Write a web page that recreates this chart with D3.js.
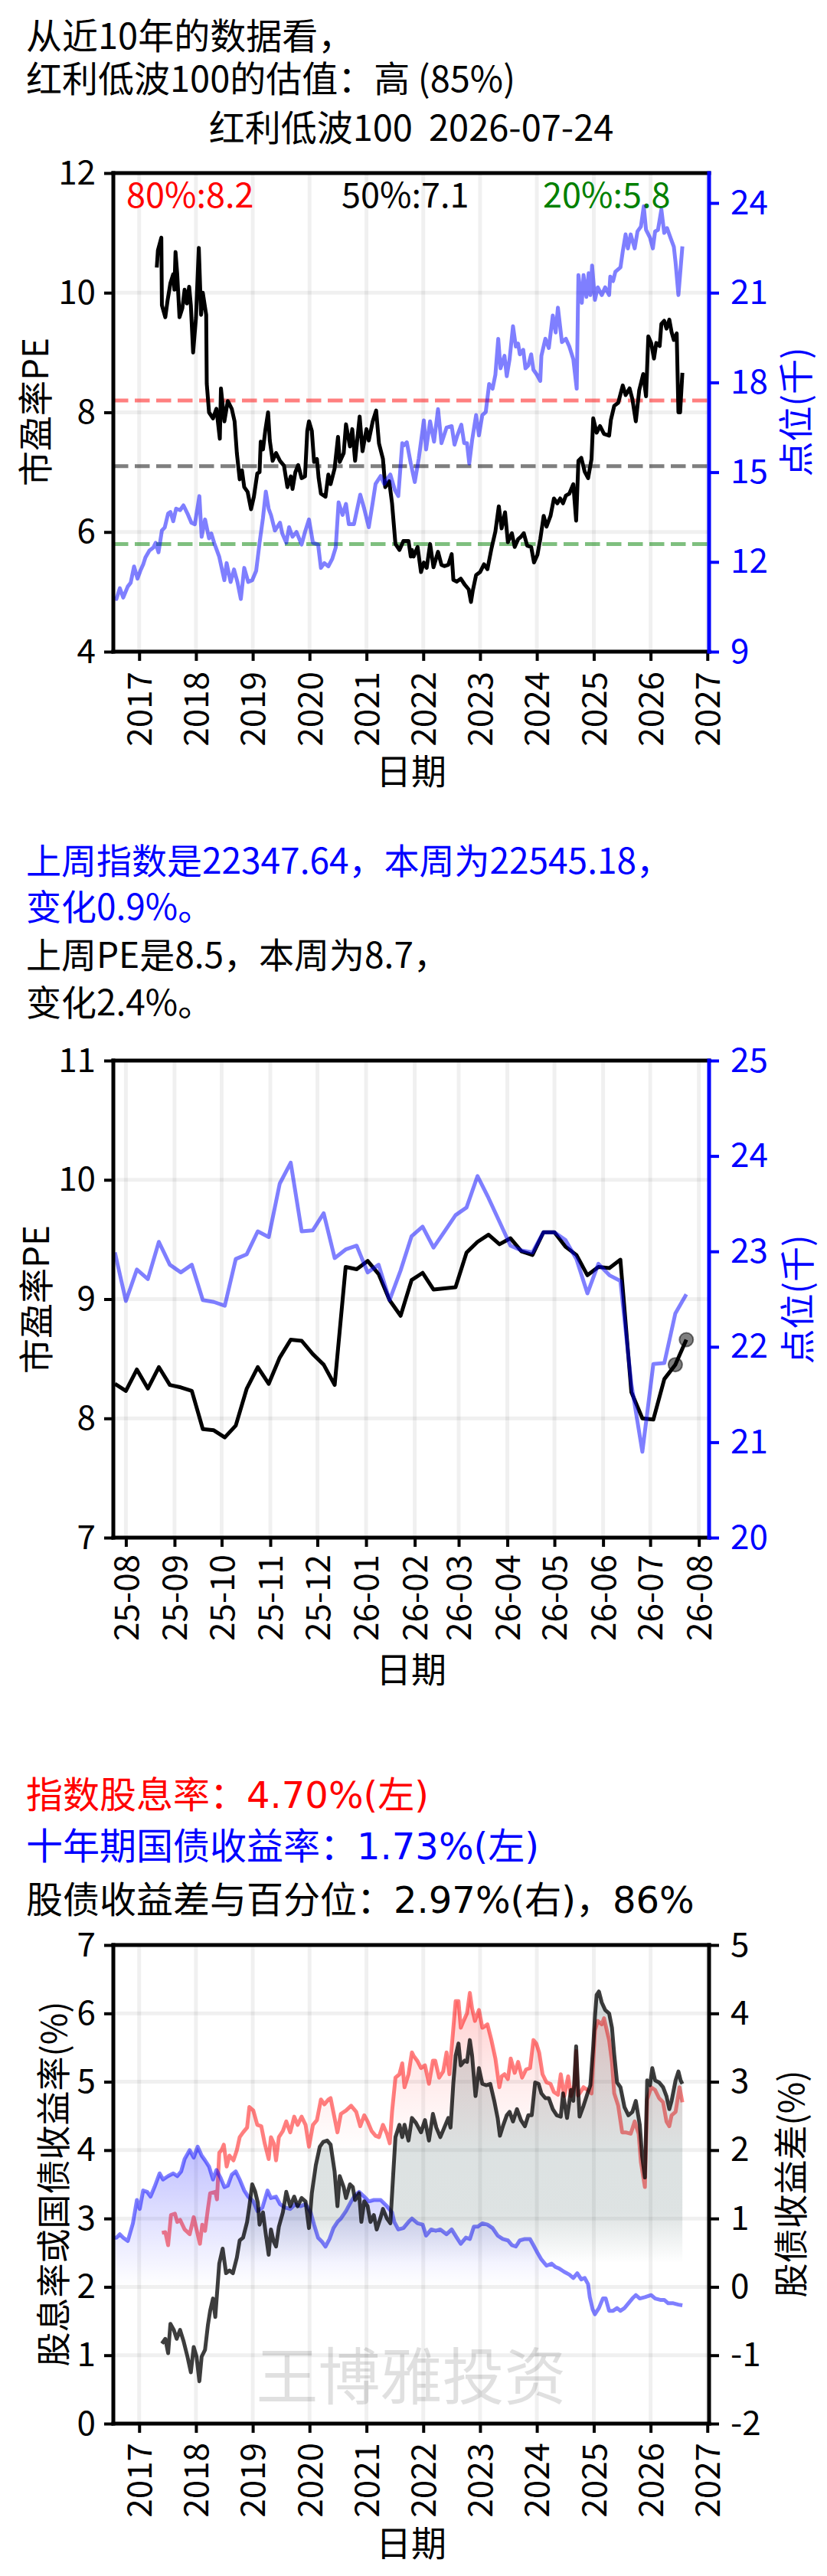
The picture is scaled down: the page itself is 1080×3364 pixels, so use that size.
<!DOCTYPE html>
<html>
<head>
<meta charset="utf-8">
<script src="https://cdn.jsdelivr.net/npm/d3@7"></script>
<style>
  body { margin: 0; background: #fff; }
  svg { display: block; }
</style>
</head>
<body>
<svg id="chart" width="1080" height="3364"></svg>
<script>
// ---- data: [decimal year, value] ----
// 市盈率PE (10 years)
var pe10y = [
  [2017.31,10.42],[2017.33,10.71],[2017.39,10.92],[2017.40,9.79],[2017.46,9.59],[2017.50,9.87],
  [2017.55,10.16],[2017.60,10.31],[2017.62,10.05],[2017.64,10.68],[2017.67,10.31],[2017.71,9.59],
  [2017.76,9.74],[2017.80,10.05],[2017.84,9.82],[2017.88,10.10],[2017.91,9.79],[2017.95,9.00],
  [2018.00,9.58],[2018.05,10.75],[2018.09,9.63],[2018.12,10.00],[2018.18,9.63],[2018.19,8.48],
  [2018.23,8.00],[2018.30,7.90],[2018.36,8.06],[2018.42,7.56],[2018.44,8.40],[2018.50,7.85],
  [2018.56,8.19],[2018.63,8.06],[2018.68,7.85],[2018.72,7.32],[2018.77,6.88],[2018.81,7.03],
  [2018.85,6.75],[2018.91,6.67],[2018.97,6.38],[2019.02,6.59],[2019.08,6.98],[2019.12,7.00],
  [2019.14,7.51],[2019.18,7.38],[2019.22,7.69],[2019.27,8.00],[2019.30,7.53],[2019.35,7.19],
  [2019.41,7.32],[2019.48,7.19],[2019.55,7.11],[2019.61,6.75],[2019.67,6.93],[2019.70,6.72],
  [2019.75,7.00],[2019.80,7.12],[2019.86,6.90],[2019.92,6.93],[2019.96,7.69],[2019.99,7.85],
  [2020.04,7.69],[2020.08,7.17],[2020.13,7.22],[2020.16,6.90],[2020.20,6.64],[2020.28,6.59],
  [2020.33,6.96],[2020.37,6.80],[2020.44,7.06],[2020.50,7.59],[2020.53,7.17],[2020.60,7.32],
  [2020.64,7.80],[2020.71,7.43],[2020.75,7.72],[2020.80,7.19],[2020.88,7.93],[2020.93,7.35],
  [2021.00,7.72],[2021.04,7.53],[2021.11,7.85],[2021.17,8.03],[2021.22,7.48],[2021.29,7.22],
  [2021.33,6.75],[2021.40,6.85],[2021.45,6.48],[2021.51,5.80],[2021.58,5.70],[2021.65,5.85],
  [2021.74,5.85],[2021.78,5.59],[2021.80,5.70],[2021.83,5.59],[2021.90,5.75],[2021.96,5.33],
  [2022.01,5.49],[2022.06,5.40],[2022.12,5.80],[2022.18,5.41],[2022.26,5.67],[2022.32,5.45],
  [2022.37,5.43],[2022.44,5.45],[2022.50,5.63],[2022.53,5.20],[2022.59,5.17],[2022.66,5.22],
  [2022.73,5.12],[2022.80,5.04],[2022.84,4.83],[2022.87,5.01],[2022.93,5.28],[2023.00,5.33],
  [2023.07,5.46],[2023.13,5.38],[2023.20,5.72],[2023.27,6.01],[2023.33,6.43],[2023.38,6.06],
  [2023.44,6.33],[2023.49,5.83],[2023.56,5.98],[2023.61,5.75],[2023.67,5.88],[2023.72,5.92],
  [2023.77,5.98],[2023.83,5.77],[2023.90,5.75],[2023.95,5.49],[2024.01,5.62],[2024.06,5.88],
  [2024.12,6.27],[2024.17,6.09],[2024.24,6.27],[2024.30,6.56],[2024.36,6.48],[2024.41,6.56],
  [2024.46,6.48],[2024.51,6.61],[2024.57,6.64],[2024.64,6.80],[2024.69,6.19],[2024.73,7.19],
  [2024.78,7.24],[2024.84,7.01],[2024.90,6.90],[2024.96,7.22],[2024.99,7.90],[2025.05,7.66],
  [2025.11,7.77],[2025.18,7.64],[2025.27,7.61],[2025.30,7.87],[2025.36,8.11],[2025.43,8.16],
  [2025.51,8.45],[2025.56,8.29],[2025.63,8.40],[2025.68,8.22],[2025.74,7.85],[2025.80,8.37],
  [2025.87,8.64],[2025.92,8.27],[2025.96,9.27],[2026.01,9.16],[2026.06,8.90],[2026.10,9.16],
  [2026.16,9.11],[2026.19,9.48],[2026.24,9.53],[2026.28,9.40],[2026.33,9.55],[2026.37,9.34],
  [2026.41,9.21],[2026.46,9.32],[2026.49,8.00],[2026.52,8.00],[2026.56,8.66]
];

// 点位(千) (10 years)
var index10y = [
  [2016.55,10.80],[2016.60,10.76],[2016.66,11.12],[2016.72,10.81],[2016.80,11.18],[2016.85,11.30],
  [2016.91,11.85],[2016.97,11.44],[2017.02,11.70],[2017.07,11.91],[2017.11,12.15],[2017.18,12.38],
  [2017.25,12.48],[2017.29,12.64],[2017.34,12.32],[2017.40,13.05],[2017.45,13.15],[2017.51,13.62],
  [2017.55,13.67],[2017.60,13.36],[2017.65,13.78],[2017.72,13.73],[2017.78,13.89],[2017.85,13.62],
  [2017.92,13.31],[2017.98,13.26],[2018.06,14.20],[2018.10,12.84],[2018.16,13.42],[2018.23,12.79],
  [2018.27,12.95],[2018.32,12.64],[2018.41,12.17],[2018.50,11.39],[2018.54,11.96],[2018.61,11.33],
  [2018.67,11.75],[2018.73,11.33],[2018.79,10.76],[2018.85,11.80],[2018.92,11.33],[2018.99,11.39],
  [2019.06,11.70],[2019.12,12.64],[2019.18,13.47],[2019.23,14.35],[2019.28,13.78],[2019.32,13.57],
  [2019.39,13.05],[2019.48,13.31],[2019.52,12.95],[2019.59,12.64],[2019.64,13.16],[2019.70,12.84],
  [2019.77,13.00],[2019.86,12.58],[2019.92,13.00],[2019.99,13.42],[2020.06,12.64],[2020.15,12.58],
  [2020.20,11.80],[2020.26,11.96],[2020.33,11.85],[2020.40,12.11],[2020.46,12.48],[2020.51,13.99],
  [2020.58,13.57],[2020.64,13.94],[2020.69,13.26],[2020.78,13.26],[2020.89,14.25],[2020.96,13.78],
  [2021.04,13.16],[2021.11,13.99],[2021.16,14.61],[2021.25,14.87],[2021.31,14.61],[2021.38,14.82],
  [2021.42,14.92],[2021.50,14.40],[2021.56,14.20],[2021.63,15.97],[2021.66,15.90],[2021.71,16.00],
  [2021.78,15.29],[2021.85,14.67],[2021.92,15.45],[2022.01,16.73],[2022.05,15.76],[2022.12,16.70],
  [2022.19,16.02],[2022.26,17.11],[2022.32,15.97],[2022.41,16.49],[2022.50,16.54],[2022.55,15.92],
  [2022.60,16.23],[2022.67,16.59],[2022.72,15.97],[2022.77,15.97],[2022.81,15.29],[2022.86,16.07],
  [2022.93,16.91],[2022.98,16.23],[2023.04,16.91],[2023.10,17.01],[2023.16,17.95],[2023.22,17.79],
  [2023.27,18.26],[2023.32,19.46],[2023.36,18.47],[2023.43,18.89],[2023.47,18.21],[2023.52,18.78],
  [2023.58,19.88],[2023.63,19.20],[2023.67,19.30],[2023.70,18.94],[2023.76,19.09],[2023.80,18.47],
  [2023.85,18.57],[2023.90,18.94],[2023.94,18.42],[2024.00,18.26],[2024.06,18.05],[2024.08,18.89],
  [2024.15,19.46],[2024.21,19.15],[2024.28,20.24],[2024.33,19.67],[2024.37,20.50],[2024.44,19.35],
  [2024.51,19.46],[2024.57,19.20],[2024.64,18.78],[2024.70,17.79],[2024.73,21.59],[2024.79,20.66],
  [2024.82,21.59],[2024.87,20.86],[2024.91,21.65],[2024.94,20.92],[2024.97,21.91],[2025.02,20.76],
  [2025.07,21.18],[2025.14,20.92],[2025.20,21.18],[2025.27,20.92],[2025.29,21.54],[2025.34,21.39],
  [2025.38,21.70],[2025.47,21.85],[2025.51,22.38],[2025.56,22.95],[2025.60,22.48],[2025.65,22.95],
  [2025.72,22.48],[2025.77,23.05],[2025.83,23.21],[2025.88,23.89],[2025.92,23.10],[2025.99,22.84],
  [2026.04,22.48],[2026.08,23.05],[2026.13,23.10],[2026.19,23.78],[2026.24,23.00],[2026.29,23.16],
  [2026.35,22.84],[2026.41,22.53],[2026.44,22.01],[2026.49,20.92],[2026.53,21.85],[2026.56,22.55]
];

var pctLabels = ["80%", "50%", "20%"];
var pctValues = [8.2, 7.1, 5.8];

// last year, weekly from 2025-07-25
var weekStart = "2025-07-25";
var pe1y = [
  8.29, 8.23, 8.41, 8.25, 8.43, 8.28, 8.26, 8.23, 7.91, 7.90, 7.84, 7.94, 8.25, 8.43,
  8.29, 8.51, 8.66, 8.65, 8.54, 8.45, 8.28, 9.27, 9.25, 9.32, 9.21, 8.99, 8.86, 9.16,
  9.22, 9.08, 9.09, 9.10, 9.39, 9.48, 9.54, 9.46, 9.51, 9.40, 9.37, 9.56, 9.56, 9.44,
  9.37, 9.20, 9.27, 9.26, 9.33, 8.22, 8.00, 7.99, 8.33, 8.45, 8.66
];
var index1y = [
  22.99, 22.48, 22.81, 22.71, 23.10, 22.86, 22.78, 22.86, 22.49, 22.47, 22.43, 22.92, 22.97, 23.21,
  23.15, 23.71, 23.93, 23.21, 23.22, 23.40, 22.93, 23.02, 23.06, 22.78, 22.86, 22.49, 22.80, 23.16,
  23.26, 23.04, 23.21, 23.38, 23.46, 23.79, 23.56, 23.31, 23.06, 23.01, 22.99, 23.20, 23.20, 23.12,
  22.92, 22.56, 22.87, 22.75, 22.69, 21.61, 20.90, 21.82, 21.83, 22.35, 22.55
];

// 指数股息率 (%)
var divYield = [
  [2017.40,2.79],[2017.46,2.80],[2017.51,2.61],[2017.56,3.05],[2017.63,3.07],[2017.67,2.95],
  [2017.72,2.98],[2017.80,2.84],[2017.89,2.77],[2017.96,3.02],[2018.01,2.84],[2018.07,2.63],
  [2018.11,2.91],[2018.16,2.82],[2018.21,3.14],[2018.25,3.37],[2018.34,3.39],[2018.37,3.28],
  [2018.41,3.96],[2018.45,4.00],[2018.49,4.08],[2018.54,3.76],[2018.59,3.92],[2018.66,3.85],
  [2018.72,4.00],[2018.77,4.19],[2018.83,4.26],[2018.90,4.33],[2018.94,4.63],[2019.01,4.58],
  [2019.08,4.37],[2019.15,4.35],[2019.21,4.10],[2019.28,3.87],[2019.32,4.19],[2019.37,4.10],
  [2019.41,3.85],[2019.46,4.19],[2019.53,4.28],[2019.59,4.42],[2019.66,4.26],[2019.73,4.49],
  [2019.79,4.37],[2019.86,4.49],[2019.93,4.37],[2019.99,4.05],[2020.06,4.37],[2020.13,4.44],
  [2020.20,4.74],[2020.26,4.67],[2020.33,4.74],[2020.37,4.76],[2020.44,4.47],[2020.49,4.26],
  [2020.55,4.53],[2020.64,4.58],[2020.73,4.65],[2020.82,4.56],[2020.89,4.35],[2020.96,4.51],
  [2021.02,4.42],[2021.09,4.28],[2021.16,4.21],[2021.22,4.19],[2021.29,4.37],[2021.36,4.24],
  [2021.41,4.10],[2021.45,4.56],[2021.51,5.06],[2021.58,5.11],[2021.63,5.27],[2021.67,4.92],
  [2021.74,5.11],[2021.80,5.43],[2021.83,5.38],[2021.90,5.30],[2021.96,5.20],[2022.03,5.24],
  [2022.10,4.97],[2022.17,5.31],[2022.21,5.31],[2022.28,5.06],[2022.35,5.15],[2022.41,5.43],
  [2022.46,5.11],[2022.53,5.79],[2022.57,6.18],[2022.62,6.18],[2022.66,5.79],[2022.71,5.89],
  [2022.77,6.00],[2022.82,6.30],[2022.86,6.07],[2022.91,5.89],[2022.98,6.05],[2023.04,5.79],
  [2023.08,5.81],[2023.13,5.84],[2023.20,5.61],[2023.27,5.34],[2023.34,4.92],[2023.38,5.08],
  [2023.43,5.11],[2023.49,5.04],[2023.54,5.34],[2023.61,5.13],[2023.67,5.29],[2023.74,5.06],
  [2023.81,5.18],[2023.88,5.20],[2023.94,5.61],[2023.99,5.56],[2024.04,5.43],[2024.10,5.11],
  [2024.17,4.99],[2024.24,4.97],[2024.30,4.85],[2024.37,4.81],[2024.42,5.11],[2024.48,4.79],
  [2024.55,5.08],[2024.60,4.79],[2024.66,4.95],[2024.69,5.45],[2024.72,4.80],[2024.75,4.83],
  [2024.82,4.92],[2024.89,4.88],[2024.96,4.83],[2025.02,5.75],[2025.07,5.89],[2025.14,5.84],
  [2025.18,5.93],[2025.23,5.75],[2025.27,5.61],[2025.32,5.29],[2025.36,4.83],[2025.43,4.65],
  [2025.50,4.26],[2025.56,4.26],[2025.65,4.24],[2025.72,4.42],[2025.79,4.24],[2025.83,3.82],
  [2025.90,3.46],[2025.94,4.74],[2026.01,4.92],[2026.08,4.88],[2026.15,4.76],[2026.22,4.70],
  [2026.28,4.42],[2026.33,4.35],[2026.37,4.51],[2026.44,4.56],[2026.51,4.92],[2026.56,4.70]
];

// 十年期国债收益率 (%)
var bondYield = [
  [2016.55,2.72],[2016.60,2.72],[2016.66,2.77],[2016.72,2.72],[2016.80,2.67],[2016.89,2.93],
  [2016.96,3.27],[2017.01,3.14],[2017.07,3.41],[2017.14,3.39],[2017.20,3.32],[2017.27,3.46],
  [2017.36,3.66],[2017.42,3.57],[2017.51,3.62],[2017.60,3.66],[2017.67,3.62],[2017.74,3.69],
  [2017.80,3.87],[2017.89,4.00],[2017.96,3.89],[2018.03,4.05],[2018.10,3.92],[2018.16,3.85],
  [2018.23,3.76],[2018.30,3.57],[2018.36,3.71],[2018.43,3.60],[2018.50,3.46],[2018.56,3.48],
  [2018.63,3.64],[2018.70,3.69],[2018.77,3.57],[2018.85,3.41],[2018.92,3.32],[2019.01,3.25],
  [2019.08,3.11],[2019.17,3.16],[2019.26,3.41],[2019.32,3.30],[2019.41,3.32],[2019.48,3.21],
  [2019.57,3.16],[2019.66,3.14],[2019.75,3.21],[2019.84,3.18],[2019.93,3.21],[2020.02,3.09],
  [2020.08,2.91],[2020.15,2.72],[2020.22,2.66],[2020.28,2.59],[2020.35,2.70],[2020.42,2.86],
  [2020.49,2.95],[2020.55,3.00],[2020.64,3.11],[2020.73,3.25],[2020.80,3.34],[2020.87,3.39],
  [2020.96,3.32],[2021.04,3.25],[2021.13,3.27],[2021.25,3.27],[2021.36,3.18],[2021.45,3.09],
  [2021.49,2.95],[2021.56,2.84],[2021.65,2.86],[2021.74,2.95],[2021.80,3.00],[2021.90,2.93],
  [2021.99,2.91],[2022.05,2.75],[2022.14,2.84],[2022.22,2.82],[2022.30,2.84],[2022.41,2.77],
  [2022.50,2.84],[2022.59,2.72],[2022.66,2.63],[2022.75,2.72],[2022.82,2.70],[2022.89,2.88],
  [2022.96,2.88],[2023.04,2.93],[2023.13,2.91],[2023.22,2.86],[2023.31,2.75],[2023.40,2.70],
  [2023.49,2.68],[2023.56,2.61],[2023.63,2.59],[2023.70,2.68],[2023.79,2.70],[2023.88,2.70],
  [2023.94,2.61],[2024.01,2.50],[2024.08,2.40],[2024.17,2.31],[2024.26,2.34],[2024.33,2.29],
  [2024.39,2.27],[2024.48,2.22],[2024.57,2.18],[2024.64,2.13],[2024.71,2.20],[2024.78,2.11],
  [2024.84,2.13],[2024.90,2.04],[2024.93,1.85],[2024.98,1.67],[2025.02,1.60],[2025.09,1.69],
  [2025.16,1.83],[2025.21,1.83],[2025.27,1.65],[2025.34,1.65],[2025.41,1.69],[2025.47,1.65],
  [2025.54,1.69],[2025.61,1.76],[2025.68,1.83],[2025.74,1.88],[2025.81,1.83],[2025.90,1.85],
  [2026.01,1.88],[2026.08,1.83],[2026.17,1.81],[2026.24,1.81],[2026.31,1.76],[2026.40,1.76],
  [2026.49,1.74],[2026.56,1.73]
];

// 股债收益差 (%)
var spread = [
  [2017.40,-0.83],[2017.46,-0.76],[2017.51,-0.97],[2017.55,-0.54],[2017.61,-0.63],[2017.66,-0.76],
  [2017.72,-0.63],[2017.78,-0.79],[2017.85,-1.02],[2017.91,-1.25],[2017.96,-0.88],[2018.01,-1.02],
  [2018.06,-1.38],[2018.10,-1.02],[2018.16,-0.92],[2018.21,-0.56],[2018.25,-0.35],[2018.30,-0.17],
  [2018.34,-0.44],[2018.41,0.34],[2018.47,0.56],[2018.53,0.20],[2018.59,0.24],[2018.65,0.20],
  [2018.72,0.43],[2018.77,0.68],[2018.83,0.72],[2018.90,0.95],[2018.94,1.18],[2018.99,1.50],
  [2019.04,1.40],[2019.09,1.23],[2019.12,0.91],[2019.18,1.09],[2019.23,0.77],[2019.28,0.47],
  [2019.32,0.84],[2019.37,0.66],[2019.41,0.59],[2019.46,0.88],[2019.53,1.09],[2019.59,1.39],
  [2019.66,1.18],[2019.73,1.32],[2019.79,1.18],[2019.86,1.30],[2019.93,1.25],[2019.99,0.86],
  [2020.04,1.37],[2020.11,1.78],[2020.18,2.05],[2020.24,2.12],[2020.31,2.14],[2020.37,2.08],
  [2020.44,1.69],[2020.49,1.18],[2020.53,1.62],[2020.60,1.46],[2020.64,1.30],[2020.71,1.50],
  [2020.76,1.46],[2020.80,1.27],[2020.87,1.37],[2020.91,0.95],[2020.96,1.25],[2021.02,1.18],
  [2021.07,0.95],[2021.13,1.05],[2021.18,0.84],[2021.25,1.02],[2021.29,1.14],[2021.36,1.00],
  [2021.42,0.93],[2021.47,1.64],[2021.51,2.19],[2021.58,2.37],[2021.63,2.19],[2021.67,2.37],
  [2021.74,2.14],[2021.80,2.47],[2021.87,2.40],[2021.96,2.26],[2022.03,2.44],[2022.10,2.14],
  [2022.17,2.53],[2022.23,2.33],[2022.30,2.19],[2022.37,2.33],[2022.44,2.47],[2022.48,2.33],
  [2022.53,2.99],[2022.57,3.38],[2022.62,3.56],[2022.66,3.24],[2022.73,3.31],[2022.77,3.29],
  [2022.82,3.61],[2022.86,3.38],[2022.92,2.79],[2022.98,3.20],[2023.04,2.97],[2023.11,2.95],
  [2023.18,2.97],[2023.25,2.72],[2023.31,2.47],[2023.35,2.21],[2023.41,2.37],[2023.47,2.51],
  [2023.52,2.56],[2023.58,2.42],[2023.65,2.60],[2023.72,2.44],[2023.79,2.35],[2023.85,2.51],
  [2023.91,2.51],[2023.97,2.99],[2024.03,2.97],[2024.08,2.83],[2024.15,2.76],[2024.21,2.76],
  [2024.28,2.60],[2024.35,2.51],[2024.42,2.49],[2024.46,2.83],[2024.53,2.47],[2024.60,2.88],
  [2024.64,2.72],[2024.69,3.52],[2024.72,2.97],[2024.75,2.49],[2024.82,2.65],[2024.89,2.83],
  [2024.94,2.95],[2024.99,3.52],[2025.02,3.95],[2025.05,4.27],[2025.09,4.32],[2025.14,4.16],
  [2025.20,4.05],[2025.27,4.00],[2025.32,3.79],[2025.36,3.40],[2025.41,2.99],[2025.47,2.92],
  [2025.54,2.63],[2025.61,2.51],[2025.68,2.56],[2025.74,2.72],[2025.81,2.37],[2025.85,1.92],
  [2025.90,1.60],[2025.94,3.02],[2025.99,2.95],[2026.03,3.20],[2026.08,3.02],[2026.15,2.99],
  [2026.22,2.92],[2026.28,2.79],[2026.33,2.60],[2026.37,2.72],[2026.44,3.02],[2026.49,3.15],
  [2026.53,3.02],[2026.56,2.97]
];

var yearTicks = [2017, 2018, 2019, 2020, 2021, 2022, 2023, 2024, 2025, 2026, 2027];
var peTicks = [4, 6, 8, 10, 12];
var indexTicks = [9, 12, 15, 18, 21, 24];
var pe1yTicks = [7, 8, 9, 10, 11];
var index1yTicks = [20, 21, 22, 23, 24, 25];
var yieldTicks = [0, 1, 2, 3, 4, 5, 6, 7];
var spreadTicks = [-2, -1, 0, 1, 2, 3, 4, 5];

// ---- drawing ----
var FONT = '"Noto Sans CJK SC", "Noto Sans", sans-serif';
var FONT_DV = '"DejaVu Sans", "Noto Sans CJK SC", sans-serif';
var BLUE = "#0000ff";
var LEFT = 148, RIGHT = 926;
var LW = 5;

var svg = d3.select("#chart");
svg.append("rect").attr("width", 1080).attr("height", 3364).attr("fill", "#fff");
var defs = svg.append("defs");

// decimal year -> Date
function yd(v) {
    var y = Math.floor(v);
    var a = new Date(y, 0, 1), b = new Date(y + 1, 0, 1);
    return new Date(+a + (v - y) * (b - a));
}

function text(str, x, y, size, color, font, anchor) {
    return svg.append("text")
        .attr("x", x).attr("y", y)
        .attr("font-size", size)
        .attr("font-family", font || FONT)
        .attr("fill", color || "#000")
        .attr("text-anchor", anchor || "start")
        .style("white-space", "pre")
        .text(str);
}

function vtext(str, x, y, size, color, font) {
    return svg.append("text")
        .attr("transform", "translate(" + x + "," + y + ") rotate(-90)")
        .attr("font-size", size)
        .attr("font-family", font || FONT)
        .attr("fill", color || "#000")
        .attr("text-anchor", "middle")
        .attr("dominant-baseline", "central")
        .text(str);
}

function drawGrid(o) {
    var g = svg.append("g");
    g.selectAll(null).data(o.xTicks).enter().append("line")
        .attr("x1", function(d) { return o.x(d); }).attr("x2", function(d) { return o.x(d); })
        .attr("y1", o.top).attr("y2", o.bottom)
        .attr("stroke", "#000").attr("stroke-opacity", 0.06).attr("stroke-width", 5);
    g.selectAll(null).data(o.lTicks).enter().append("line")
        .attr("x1", LEFT).attr("x2", RIGHT)
        .attr("y1", function(d) { return o.yL(d); }).attr("y2", function(d) { return o.yL(d); })
        .attr("stroke", "#000").attr("stroke-opacity", 0.06).attr("stroke-width", 5);
}

var plainNum = function(d) { return String(d); };

function drawAxes(o) {
    var rc = o.rColor || "#000";
    var bx = svg.append("g")
        .attr("transform", "translate(0," + o.bottom + ")")
        .call(d3.axisBottom(o.x).tickValues(o.xTicks).tickFormat(o.xFormat).tickSize(12));
    bx.attr("font-family", FONT).attr("font-size", 44);
    bx.select(".domain").remove();
    bx.selectAll(".tick line").attr("stroke", "#000").attr("stroke-width", 4);
    bx.selectAll(".tick text")
        .attr("transform", "rotate(-90)")
        .attr("x", -o.xPad).attr("y", 0).attr("dy", "0.36em")
        .attr("text-anchor", "end").attr("fill", "#000");

    var lx = svg.append("g")
        .attr("transform", "translate(" + LEFT + ",0)")
        .call(d3.axisLeft(o.yL).tickValues(o.lTicks).tickFormat(plainNum).tickSize(12).tickPadding(11));
    lx.attr("font-family", FONT).attr("font-size", 44);
    lx.select(".domain").remove();
    lx.selectAll(".tick line").attr("stroke", "#000").attr("stroke-width", 4);
    lx.selectAll(".tick text").attr("fill", "#000");

    var rx = svg.append("g")
        .attr("transform", "translate(" + RIGHT + ",0)")
        .call(d3.axisRight(o.yR).tickValues(o.rTicks).tickFormat(plainNum).tickSize(13).tickPadding(15));
    rx.attr("font-family", FONT).attr("font-size", 44);
    rx.select(".domain").remove();
    rx.selectAll(".tick line").attr("stroke", rc).attr("stroke-width", 4);
    rx.selectAll(".tick text").attr("fill", rc);

    // spines
    var sp = svg.append("g").attr("stroke-width", 5).attr("stroke-linecap", "square");
    sp.append("line").attr("x1", LEFT).attr("x2", RIGHT).attr("y1", o.top).attr("y2", o.top).attr("stroke", "#000");
    sp.append("line").attr("x1", LEFT).attr("x2", RIGHT).attr("y1", o.bottom).attr("y2", o.bottom).attr("stroke", "#000");
    sp.append("line").attr("x1", LEFT).attr("x2", LEFT).attr("y1", o.top).attr("y2", o.bottom).attr("stroke", "#000");
    sp.append("line").attr("x1", RIGHT).attr("x2", RIGHT).attr("y1", o.top).attr("y2", o.bottom).attr("stroke", rc);
}

function linePath(x, y, data, color, opacity, width) {
    var line = d3.line()
        .x(function(d) { return x(d[0]); })
        .y(function(d) { return y(d[1]); });
    return svg.append("path")
        .datum(data)
        .attr("d", line)
        .attr("fill", "none")
        .attr("stroke", color)
        .attr("stroke-opacity", opacity)
        .attr("stroke-width", width)
        .attr("stroke-linejoin", "round");
}

// ===== chart 1: 10 year PE / index =====
text("从近10年的数据看，", 34, 64, 47);
text("红利低波100的估值：高 (85%)", 34, 120, 47);
text("红利低波100  2026-07-24", 537, 184, 47, "#000", FONT, "middle");

var c1 = {
    top: 226, bottom: 851,
    x: d3.scaleTime().domain([yd(2016.546), yd(2027.03)]).range([LEFT, RIGHT]),
    yL: d3.scaleLinear().domain([4, 12]).range([851, 226]),
    yR: d3.scaleLinear().domain([9, 25]).range([851, 226]),
    xTicks: yearTicks.map(function(y) { return new Date(y, 0, 1); }),
    xFormat: d3.timeFormat("%Y"),
    lTicks: peTicks, rTicks: indexTicks, rColor: BLUE, xPad: 26
};
drawGrid(c1);

var pctColors = ["#ff0000", "#000000", "#008000"];
var pctX = [165, 446, 709];
pctValues.forEach(function(v, i) {
    svg.append("line")
        .attr("x1", LEFT).attr("x2", RIGHT)
        .attr("y1", c1.yL(v)).attr("y2", c1.yL(v))
        .attr("stroke", pctColors[i]).attr("stroke-opacity", 0.5)
        .attr("stroke-width", 5).attr("stroke-dasharray", "19.5,8.5");
    text(pctLabels[i] + ":" + v.toFixed(1), pctX[i], 271, 45, pctColors[i]);
});

linePath(function(d) { return c1.x(yd(d)); }, c1.yL, pe10y, "#000", 1, LW);
linePath(function(d) { return c1.x(yd(d)); }, c1.yR, index10y, BLUE, 0.5, LW);
drawAxes(c1);
vtext("市盈率PE", 43, 538, 46);
vtext("点位(千)", 1036, 538, 46, BLUE);
text("日期", 537, 1024, 46, "#000", FONT, "middle");

// ===== chart 2: last year =====
text("上周指数是22347.64，本周为22545.18，", 34, 1141, 46, BLUE);
text("变化0.9%。", 34, 1201, 46, BLUE);
text("上周PE是8.5，本周为8.7，", 34, 1264, 46);
text("变化2.4%。", 34, 1326, 46);

var weeks = pe1y.map(function(v, i) { return d3.timeDay.offset(d3.timeParse("%Y-%m-%d")(weekStart), 7 * i); });
var c2 = {
    top: 1385, bottom: 2008,
    x: d3.scaleTime().domain([new Date(2025, 6, 24), new Date(2026, 7, 7, 12)]).range([LEFT, RIGHT]),
    yL: d3.scaleLinear().domain([7, 11]).range([2008, 1385]),
    yR: d3.scaleLinear().domain([20, 25]).range([2008, 1385]),
    xTicks: d3.timeMonth.range(new Date(2025, 7, 1), new Date(2026, 7, 2)),
    xFormat: d3.timeFormat("%y-%m"),
    lTicks: pe1yTicks, rTicks: index1yTicks, rColor: BLUE, xPad: 22
};
drawGrid(c2);
var peWeekly = pe1y.map(function(v, i) { return [weeks[i], v]; });
var idxWeekly = index1y.map(function(v, i) { return [weeks[i], v]; });
linePath(c2.x, c2.yL, peWeekly, "#000", 1, LW);
linePath(c2.x, c2.yR, idxWeekly, BLUE, 0.5, LW);
svg.selectAll(null).data(peWeekly.slice(-2)).enter().append("circle")
    .attr("cx", function(d) { return c2.x(d[0]); })
    .attr("cy", function(d) { return c2.yL(d[1]); })
    .attr("r", 9)
    .attr("fill", "#000").attr("fill-opacity", 0.5)
    .attr("stroke", "#000").attr("stroke-opacity", 0.5).attr("stroke-width", 2);
drawAxes(c2);
vtext("市盈率PE", 44, 1697, 46);
vtext("点位(千)", 1038, 1697, 46, BLUE);
text("日期", 537, 2197, 46, "#000", FONT, "middle");

// ===== chart 3: yields =====
text("指数股息率：4.70%(左)", 34, 2361, 48, "#ff0000", FONT_DV);
text("十年期国债收益率：1.73%(左)", 34, 2428, 48, BLUE, FONT_DV);
text("股债收益差与百分位：2.97%(右)，86%", 34, 2498, 48, "#000", FONT_DV);

var c3 = {
    top: 2540, bottom: 3165,
    x: c1.x,
    yL: d3.scaleLinear().domain([0, 7]).range([3165, 2540]),
    yR: d3.scaleLinear().domain([-2, 5]).range([3165, 2540]),
    xTicks: c1.xTicks,
    xFormat: d3.timeFormat("%Y"),
    lTicks: yieldTicks, rTicks: spreadTicks, xPad: 25
};
drawGrid(c3);

// gradient fill below a series; stops are [value, opacity] from top to bottom
function gradientArea(id, data, y, color, stops) {
    var ext = d3.extent(data, function(d) { return d[1]; });
    var y1 = y(ext[1]), y2 = y(ext[0]);
    var lg = defs.append("linearGradient").attr("id", id)
        .attr("gradientUnits", "userSpaceOnUse")
        .attr("x1", 0).attr("x2", 0).attr("y1", y1).attr("y2", y2);
    stops.forEach(function(s) {
        var off = Math.max(0, Math.min(1, (y(s[0]) - y1) / (y2 - y1)));
        lg.append("stop").attr("offset", off).attr("stop-color", color).attr("stop-opacity", s[1]);
    });
    var area = d3.area()
        .x(function(d) { return c3.x(yd(d[0])); })
        .y0(y2)
        .y1(function(d) { return y(d[1]); });
    svg.append("path").datum(data).attr("d", area).attr("fill", "url(#" + id + ")");
}

var xYear = function(d) { return c3.x(yd(d)); };
gradientArea("gRed", divYield, c3.yL, "#ff0000", [[6.3, 0.2], [5.2, 0.09], [4.0, 0]]);
linePath(xYear, c3.yL, divYield, "#ff0000", 0.5, LW);
gradientArea("gBlue", bondYield, c3.yL, "#0000ff", [[4.05, 0.25], [3.0, 0.12], [2.0, 0]]);
linePath(xYear, c3.yL, bondYield, BLUE, 0.5, LW);
gradientArea("gGray", spread, c3.yR, "#2f4f4f", [[4.3, 0.18], [1.1, 0.16], [0.35, 0]]);
linePath(xYear, c3.yR, spread, "#000", 0.76, LW);

text("王博雅投资", 537, 3133, 81, "#000", FONT, "middle").attr("fill-opacity", 0.12);

drawAxes(c3);
vtext("股息率或国债收益率(%)", 67, 2852, 45);
vtext("股债收益差(%)", 1030, 2852, 45);
text("日期", 537, 3338, 46, "#000", FONT, "middle");
</script>
</body>
</html>
